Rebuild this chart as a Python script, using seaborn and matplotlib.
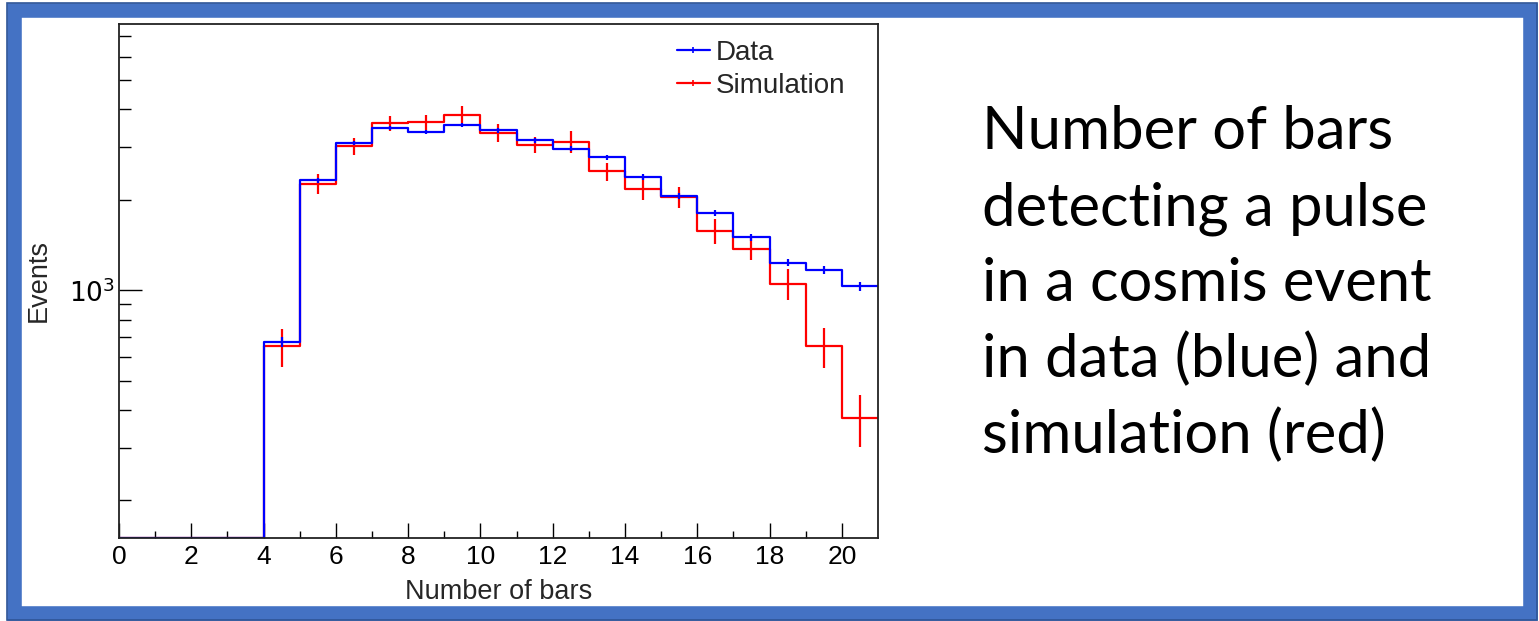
import numpy as np
import pandas as pd
import matplotlib
matplotlib.use("Agg")
import matplotlib.pyplot as plt
import seaborn as sns
from matplotlib.ticker import FixedLocator, NullFormatter, FixedFormatter
from matplotlib.lines import Line2D
from matplotlib.patches import Rectangle

# bin edges of the histogram (Number of bars)
bin_edges = [0, 1, 2, 3, 4, 5, 6, 7, 8, 9, 10, 11, 12, 13, 14, 15, 16, 17, 18, 19, 20, 21]

# events per bin
data_counts = [0, 0, 0, 0, 676, 2324, 3095, 3472, 3367, 3553, 3408, 3157,
               2963, 2771, 2385, 2067, 1810, 1501, 1236, 1169, 1031]
data_errors = [0, 0, 0, 0, 26, 48, 56, 59, 58, 60, 58, 56,
               54, 53, 49, 45, 43, 39, 35, 34, 32]
sim_counts = [0, 0, 0, 0, 651, 2261, 3016, 3597, 3625, 3845, 3342, 3055,
              3119, 2489, 2181, 2047, 1572, 1377, 1054, 651, 376]
sim_errors = [0, 0, 0, 0, 95, 170, 195, 205, 210, 250, 225, 195,
              260, 175, 180, 165, 150, 118, 123, 101, 74]

series_names = ["Data", "Simulation"]
series_colors = {"Data": "#0000ff", "Simulation": "#ff0000"}

xticks_major = [0, 2, 4, 6, 8, 10, 12, 14, 16, 18, 20]
xticks_minor = [1, 3, 5, 7, 9, 11, 13, 15, 17, 19]
yticks_major = [1000]
yticks_minor = [200, 300, 400, 500, 600, 700, 800, 900,
                2000, 3000, 4000, 5000, 6000, 7000]

text_lines = ["Number of bars", "detecting a pulse", "in a cosmis event",
              "in data (blue) and", "simulation (red)"]

y_min, y_max = 150, 7700

sns.set_style("ticks")
plt.rcParams["font.family"] = ["Liberation Sans", "DejaVu Sans"]

fig = plt.figure(figsize=(15.39, 6.21), dpi=100)
W, H = 1539, 621
ax = fig.add_axes([119 / W, (H - 538) / H, 759 / W, 514 / H])

edges = np.array(bin_edges, dtype=float)
centers = (edges[:-1] + edges[1:]) / 2

rows = []
for name, counts in [("Simulation", sim_counts), ("Data", data_counts)]:
    c = np.array(counts, dtype=float)
    c = np.where(c > 0, c, y_min)          # empty bins sit on the frame like ROOT
    step_y = np.append(c, c[-1])
    for x, y in zip(edges, step_y):
        rows.append({"series": name, "x": x, "y": y})
df = pd.DataFrame(rows)

for name in ["Simulation", "Data"]:
    sub = df[df["series"] == name]
    sns.lineplot(data=sub, x="x", y="y", ax=ax, color=series_colors[name],
                 drawstyle="steps-post", estimator=None, sort=False,
                 linewidth=1.6)

for name, counts, errs in [("Simulation", sim_counts, sim_errors),
                           ("Data", data_counts, data_errors)]:
    c = np.array(counts, dtype=float)
    e = np.array(errs, dtype=float)
    m = c > 0
    ax.errorbar(centers[m], c[m], yerr=e[m], fmt="none",
                ecolor=series_colors[name], elinewidth=1.6, capsize=0)

ax.set_yscale("log")
ax.set_xlim(0, 21)
ax.set_ylim(y_min, y_max)

ax.xaxis.set_major_locator(FixedLocator(xticks_major))
ax.xaxis.set_minor_locator(FixedLocator(xticks_minor))
ax.yaxis.set_major_locator(FixedLocator(yticks_major))
ax.yaxis.set_major_formatter(FixedFormatter([r"$10^{3}$"]))
ax.yaxis.set_minor_locator(FixedLocator(yticks_minor))
ax.yaxis.set_minor_formatter(NullFormatter())

ax.tick_params(axis="both", which="both", direction="in", colors="black",
               width=1.0, labelsize=19, top=False, right=False)
ax.tick_params(axis="x", which="major", length=10.8, pad=5)
ax.tick_params(axis="x", which="minor", length=4.8)
ax.tick_params(axis="y", which="major", length=16.3, pad=3)
ax.tick_params(axis="y", which="minor", length=8.4)
for sp in ax.spines.values():
    sp.set_visible(True)
    sp.set_linewidth(1.3)
    sp.set_color("#222222")

ax.set_xlabel("Number of bars", fontsize=19.5, labelpad=7)
ax.set_ylabel("Events", fontsize=19.5)
ax.yaxis.set_label_coords((52 - 119) / 759, 0.5)

handles = [Line2D([], [], color=series_colors[n], linewidth=1.6,
                  marker="|", markersize=5, markeredgewidth=1.2)
           for n in series_names]
ax.legend(handles, series_names, loc="upper left",
          bbox_to_anchor=((677 - 119) / 759, (538 - 40) / 514),
          frameon=False, fontsize=20, handlelength=1.18, handletextpad=0.2,
          labelspacing=0.25, borderpad=0, borderaxespad=0)

baselines = [149, 225, 301, 377, 453]
for line, yb in zip(text_lines, baselines):
    fig.text(982 / W, 1 - yb / H, line, fontsize=43, family="Lato",
             va="baseline", ha="left", color="black")

# blue slide frame
fig.patches.append(Rectangle((14 / W, 8 / H), (1530 - 14) / W, (611 - 8) / H,
                             transform=fig.transFigure, fill=False,
                             edgecolor="#4472c4", linewidth=10.5))
fig.patches.append(Rectangle((7 / W, 1.5 / H), (1537 - 7) / W, (618 - 1.5) / H,
                             transform=fig.transFigure, fill=False,
                             edgecolor="#2f5597", linewidth=1.2))

fig.savefig("out.png", dpi=100)
